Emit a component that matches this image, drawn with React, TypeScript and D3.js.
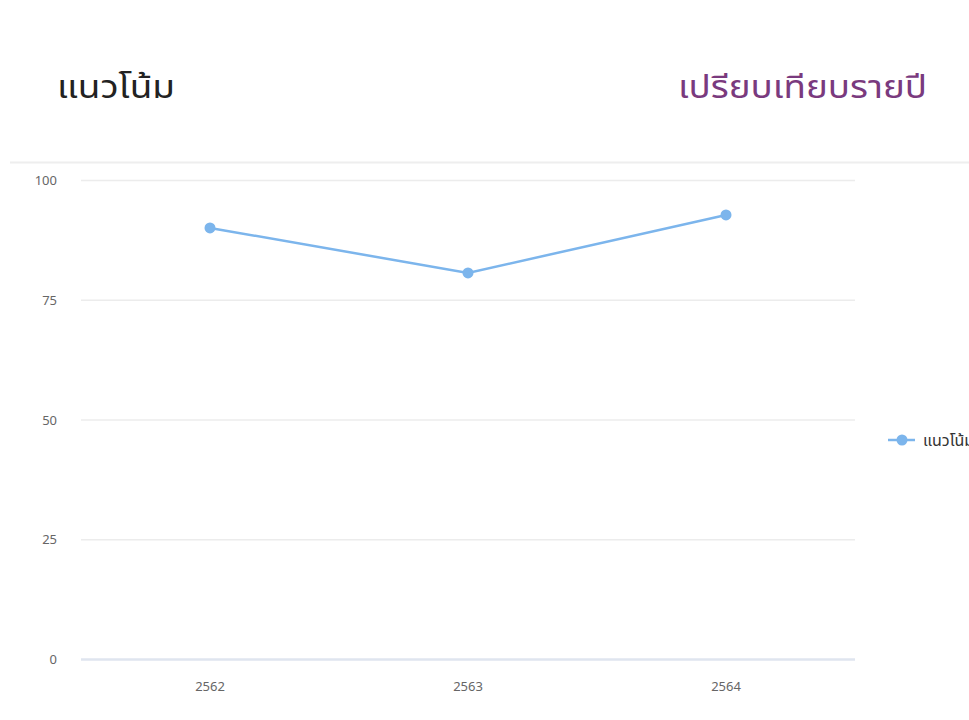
import React, { useEffect, useRef } from 'react';
import * as d3 from 'd3';

const years = ['2562', '2563', '2564'];
const values = [90, 80.6, 92.7];
const yTicks = [0, 25, 50, 75, 100];
const seriesName = 'แนวโน้ม';
const titleLeft = 'แนวโน้ม';
const titleRight = 'เปรียบเทียบรายปี';

const App = () => {
  const ref = useRef<SVGSVGElement | null>(null);

  useEffect(() => {
    if (!ref.current) return;
    const svg = d3.select(ref.current);
    svg.selectAll('*').remove();

    const font = "'Noto Sans Thai', 'Noto Sans', sans-serif";
    const margin = { top: 180, left: 81, right: 114, bottom: 61 };
    const width = 969 - margin.left - margin.right;
    const height = 720 - margin.top - margin.bottom;

    // titles (stretched a bit to match the wider original face)
    svg.append('text')
      .attr('x', 57).attr('y', 98)
      .attr('font-family', font).attr('font-size', 32)
      .attr('fill', '#222')
      .attr('textLength', 118).attr('lengthAdjust', 'spacingAndGlyphs')
      .text(titleLeft);
    svg.append('text')
      .attr('x', 678).attr('y', 98)
      .attr('font-family', font).attr('font-size', 32)
      .attr('fill', '#7a3a7e')
      .attr('textLength', 249).attr('lengthAdjust', 'spacingAndGlyphs')
      .text(titleRight);
    svg.append('line')
      .attr('x1', 10).attr('x2', 969)
      .attr('y1', 162.5).attr('y2', 162.5)
      .attr('stroke', '#eeeeee').attr('stroke-width', 2);

    const g = svg.append('g').attr('transform', `translate(${margin.left},${margin.top})`);

    const x = d3.scaleBand().domain(years).range([0, width]);
    const y = d3.scaleLinear().domain([0, 100]).range([height, 0]);

    // grid
    g.selectAll('.grid').data(yTicks.filter(t => t > 0)).enter()
      .append('line')
      .attr('x1', 0).attr('x2', width)
      .attr('y1', d => y(d) + 0.5).attr('y2', d => y(d) + 0.5)
      .attr('stroke', '#ececec').attr('stroke-width', 1.5);

    // baseline
    g.append('line')
      .attr('x1', 0).attr('x2', width)
      .attr('y1', height + 0.5).attr('y2', height + 0.5)
      .attr('stroke', '#dfe5ef').attr('stroke-width', 2.5);

    // y labels
    g.selectAll('.ylab').data(yTicks).enter()
      .append('text')
      .attr('x', -24).attr('y', d => y(d) + 5)
      .attr('text-anchor', 'end')
      .attr('font-family', font).attr('font-size', 13)
      .attr('fill', '#666')
      .text(d => d);

    // x labels
    g.selectAll('.xlab').data(years).enter()
      .append('text')
      .attr('x', d => (x(d) ?? 0) + x.bandwidth() / 2)
      .attr('y', height + 32)
      .attr('text-anchor', 'middle')
      .attr('font-family', font).attr('font-size', 13)
      .attr('fill', '#666')
      .text(d => d);

    const pts = years.map((yr, i) => ({ yr, v: values[i] }));
    const line = d3.line<{ yr: string; v: number }>()
      .x(d => (x(d.yr) ?? 0) + x.bandwidth() / 2)
      .y(d => y(d.v));

    g.append('path').datum(pts)
      .attr('fill', 'none')
      .attr('stroke', '#7cb5ec')
      .attr('stroke-width', 2.5)
      .attr('d', line);

    g.selectAll('.pt').data(pts).enter()
      .append('circle')
      .attr('cx', d => (x(d.yr) ?? 0) + x.bandwidth() / 2)
      .attr('cy', d => y(d.v))
      .attr('r', 5.5)
      .attr('fill', '#7cb5ec');

    // legend (clipped by the right edge, as in the original)
    const lg = svg.append('g').attr('transform', 'translate(888,440)');
    lg.append('line').attr('x1', 0).attr('x2', 27).attr('y1', 0).attr('y2', 0)
      .attr('stroke', '#7cb5ec').attr('stroke-width', 2.5);
    lg.append('circle').attr('cx', 14).attr('cy', 0).attr('r', 5.5).attr('fill', '#7cb5ec');
    lg.append('text').attr('x', 35).attr('y', 6)
      .attr('font-family', font).attr('font-size', 16)
      .attr('fill', '#333')
      .text(seriesName);
  }, []);

  return (
    <svg ref={ref} width={969} height={720}
      style={{ position: 'absolute', left: 0, top: 0, background: '#fff' }} />
  );
};

export default App;
